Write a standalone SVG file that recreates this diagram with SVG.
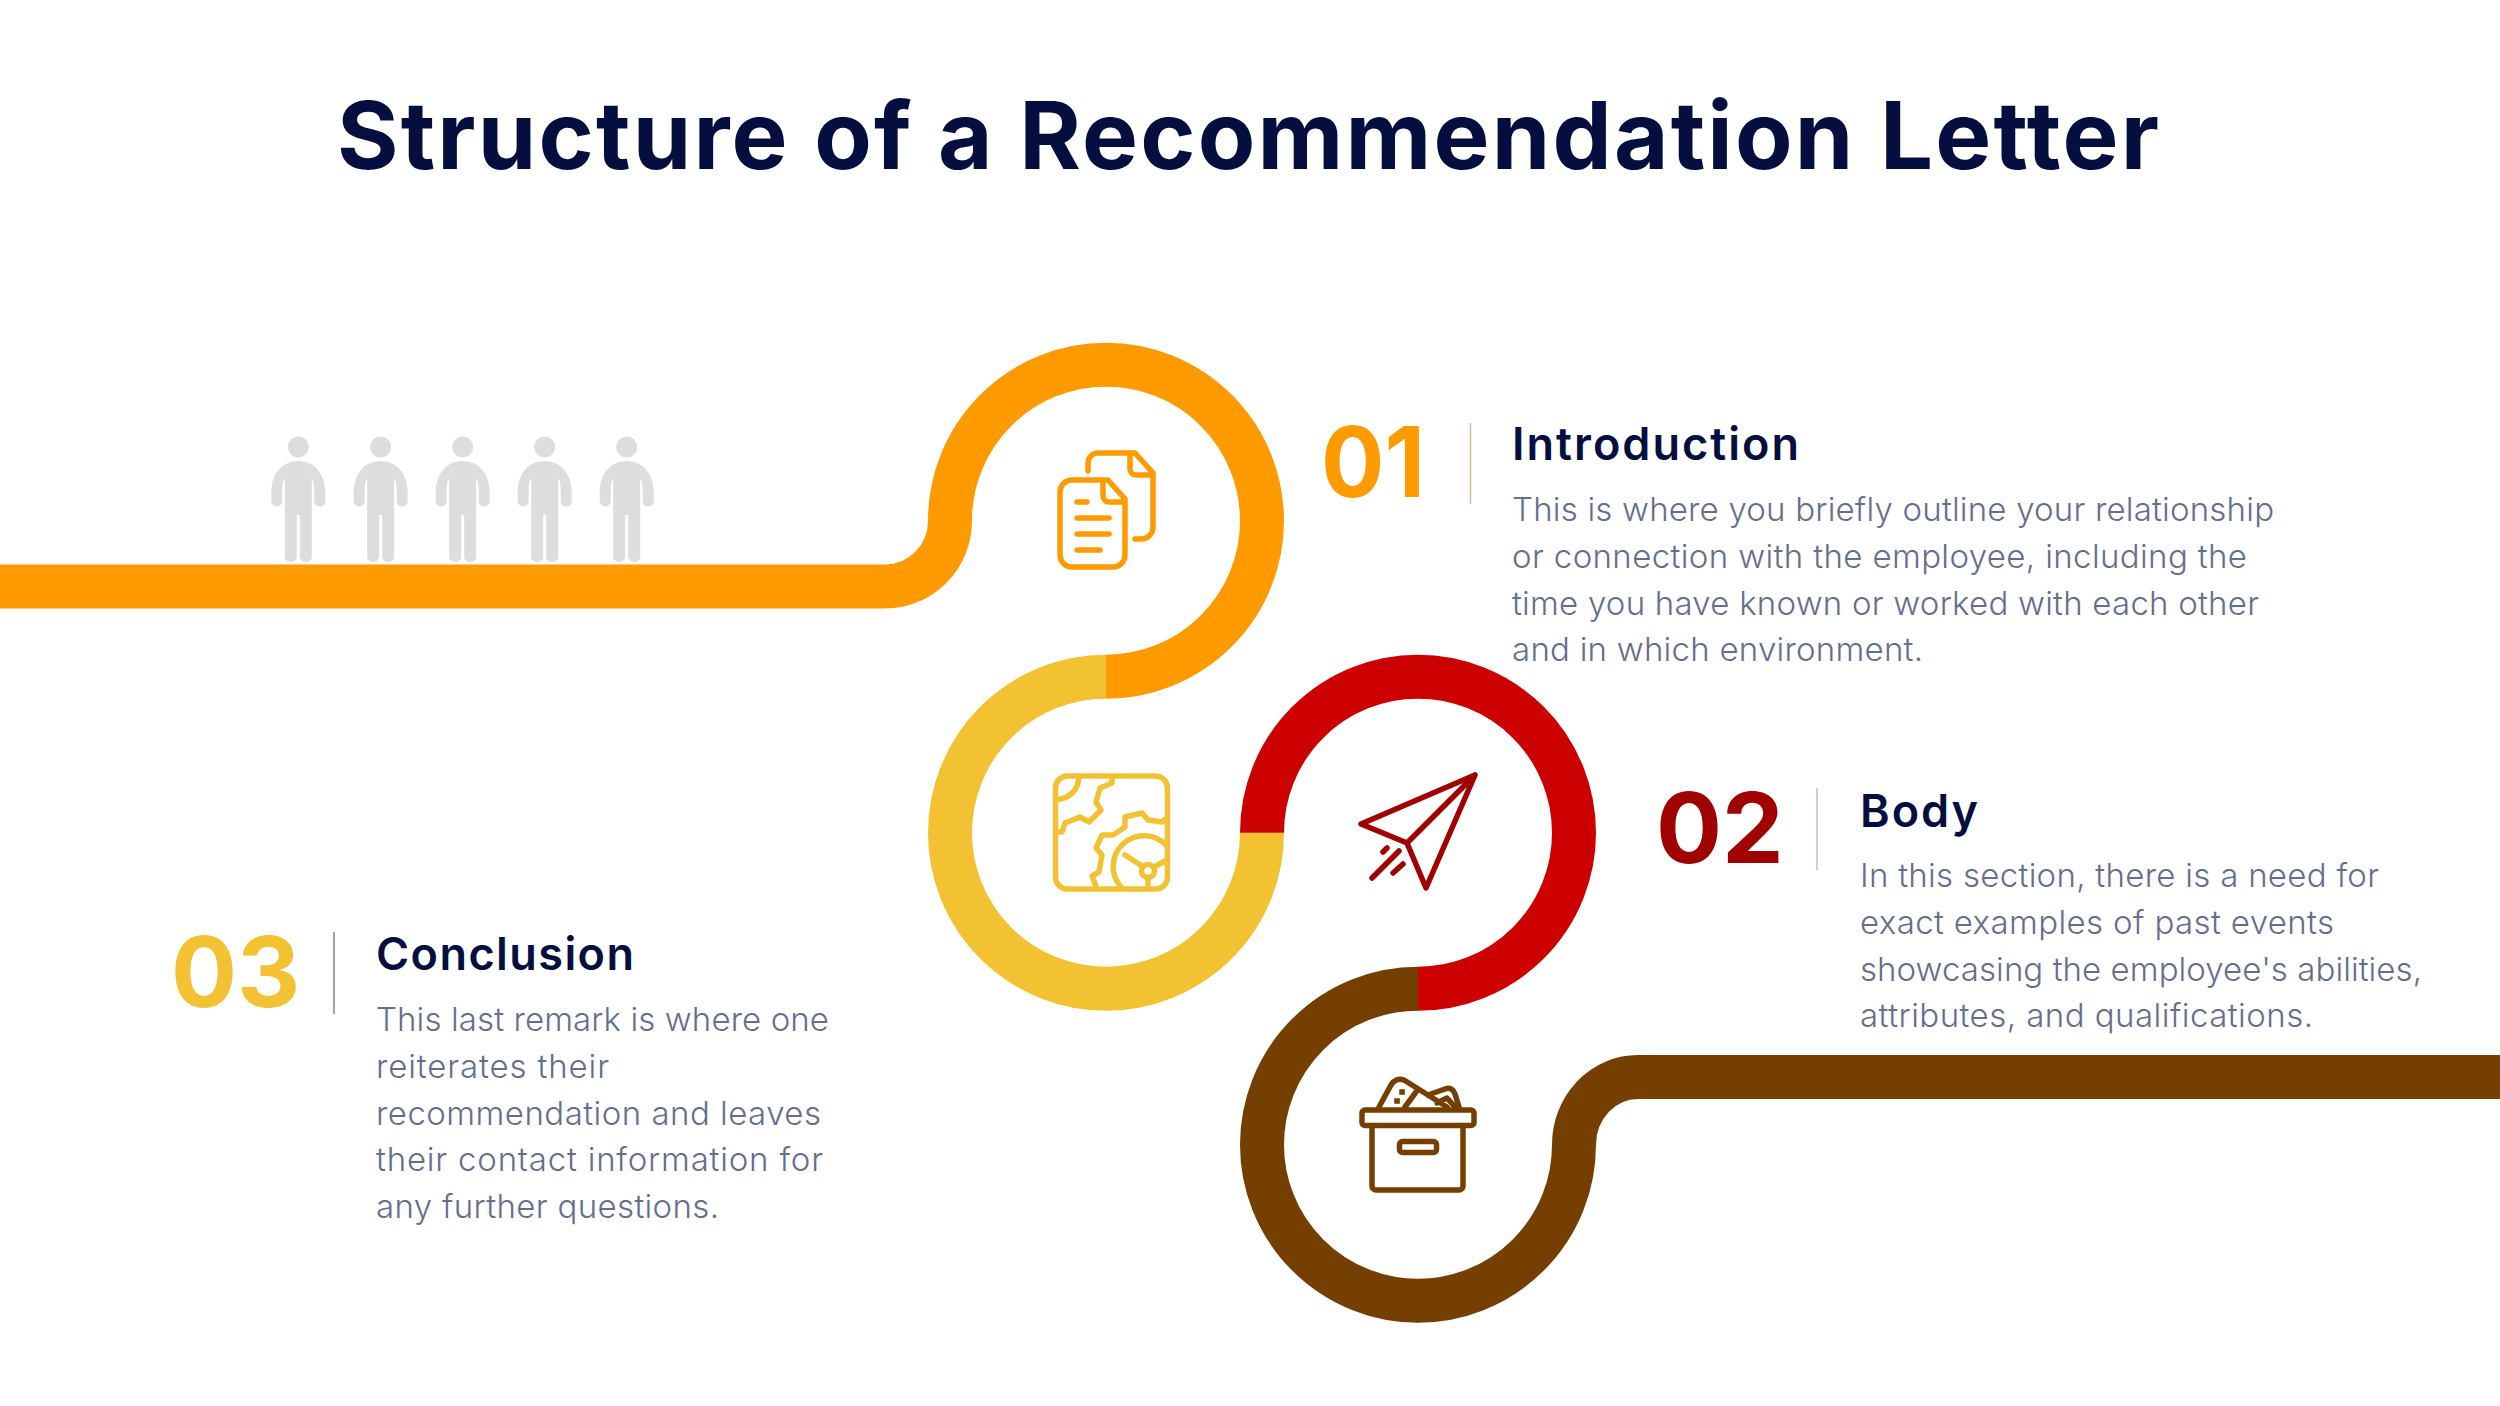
<svg xmlns="http://www.w3.org/2000/svg" width="2500" height="1406" viewBox="0 0 2500 1406">
<style>
.r{fill:none;stroke-width:44}
.i{fill:none;stroke-width:5.5;stroke-linecap:round;stroke-linejoin:round}
.t{font-family:"Inter","Liberation Sans",sans-serif}
.n{font-size:98px;font-weight:700;font-family:"Inter","Liberation Sans",sans-serif}
.h{font-size:45px;font-weight:600;fill:#050f3f;font-family:"Inter","Liberation Sans",sans-serif}
.b{font-size:33px;font-weight:300;fill:#666e8e;font-family:"Inter","Liberation Sans",sans-serif}
</style>
<rect width="2500" height="1406" fill="#fff"/>
<text id="title" class="t" x="1248" y="169" font-size="94" font-weight="700" fill="#050f3f" text-anchor="middle" textLength="1822">Structure of a Recommendation Letter</text>
<defs><g id="p" fill="#dddddd"><circle cx="0" cy="0" r="10.5"/><path d="M0 14C-17 14-27 28-27 45V54A5.5 5.5 0 0 0-16 54V43C-16 38-15 33-13.5 31V111A6.5 6.5 0 0 0-1.5 111V68H1.5V111A6.5 6.5 0 0 0 13.5 111V31C15 33 16 38 16 43V54A5.5 5.5 0 0 0 27 54V45C27 28 17 14 0 14Z"/></g></defs>
<g id="people"><use href="#p" x="298.3" y="447"/><use href="#p" x="380.7" y="447"/><use href="#p" x="462.7" y="447"/><use href="#p" x="544.7" y="447"/><use href="#p" x="626.7" y="447"/></g>
<g id="connectors">
<path class="r" stroke="#ff9b00" d="M0 586.5H885A65 65.8 0 0 0 950 520.7A156 156 0 1 1 1106 676.7"/>
<path class="r" stroke="#f3c233" d="M1106 676.7A156 156 0 1 0 1262 832.7"/>
<path class="r" stroke="#cc0000" d="M1262 832.7A156 156 0 1 1 1418 988.7"/>
<path class="r" stroke="#763f02" d="M1418 988.7A156 156 0 1 0 1574 1144.7A64 67.7 0 0 1 1638 1077H2500"/>
</g>
<g id="node-01">
<g class="i" stroke="#ff9b00"><path d="M1088 471V463A10 10 0 0 1 1098 453H1135L1153 473V527A12 12 0 0 1 1141 539H1135"/><path d="M1130 456V469A6 6 0 0 0 1136 475H1152"/><path d="M1108 480H1072A12 12 0 0 0 1060 492V555A12 12 0 0 0 1072 567H1113A12 12 0 0 0 1125 555V499Z"/><path d="M1103 482V496A6 6 0 0 0 1109 502H1124"/><path d="M1077 502H1087M1077 518H1109M1077 534H1109M1077 550H1100"/></g>
<text class="n" x="1321" y="497" fill="#ff9b00" textLength="104" lengthAdjust="spacingAndGlyphs">01</text>
<line stroke="#d7bb92" stroke-width="1.5" x1="1470.5" y1="423" x2="1470.5" y2="504"/>
<text class="h" x="1512" y="460" textLength="287">Introduction</text>
<text class="b" x="1512" y="521" textLength="762">This is where you briefly outline your relationship</text>
<text class="b" x="1512" y="568" textLength="735">or connection with the employee, including the</text>
<text class="b" x="1512" y="615" textLength="747">time you have known or worked with each other</text>
<text class="b" x="1512" y="661" textLength="411">and in which environment.</text>
</g>
<g id="node-02">
<g class="i" stroke="#f3c233"><rect x="1055.5" y="776" width="112" height="113" rx="12"/><path d="M1079 777C1078 790 1070 798 1056 800M1112 777V783L1100 788L1096 802L1101 810L1089 822L1080 817L1065 823L1062 832H1056M1096 886L1092 876L1099 872L1102 855L1096 848L1102 835H1113L1125 827V817L1142 813L1148 820L1162 822L1167 818M1121 887A30 30 0 0 1 1167 846M1125 855L1142 866M1154 867L1167 860M1148 877V886"/><circle cx="1148" cy="871" r="6.5"/></g>
</g>
<g id="node-03">
<g class="i" stroke="#a00000"><path d="M1475 775L1361 824L1407 843L1426 888ZM1475 775L1407 843M1383 852L1387 848M1399 851L1372 878M1403 864L1393 873"/></g>
<text class="n" x="1656" y="863" fill="#a00000">02</text>
<line stroke="#b9bfd0" stroke-width="1.5" x1="1817" y1="788" x2="1817" y2="870"/>
<text class="h" x="1860" y="827" textLength="118">Body</text>
<text class="b" x="1860" y="887" textLength="519">In this section, there is a need for</text>
<text class="b" x="1860" y="934" textLength="474">exact examples of past events</text>
<text class="b" x="1860" y="981" textLength="562">showcasing the employee's abilities,</text>
<text class="b" x="1860" y="1027" textLength="453">attributes, and qualifications.</text>
</g>
<g id="node-04">
<g class="i" stroke="#763f02"><rect x="1362" y="1110" width="112" height="15.5" rx="3"/><path d="M1372 1126V1186A4 4 0 0 0 1376 1190H1459A4 4 0 0 0 1463 1186V1126"/><rect x="1399.5" y="1141.5" width="37" height="11" rx="3"/><path d="M1379 1107L1391 1085C1394 1080 1399 1078 1404 1080L1447 1107M1405 1107L1416 1092M1428 1095L1445 1089C1450 1087 1454 1090 1455 1094L1459 1107M1437 1103L1447 1098L1455 1107"/><path d="M1402 1092h.1M1397 1101h.1" stroke-linecap="square"/></g>
</g>
<g id="node-05">
<text class="n" x="171" y="1007" fill="#f3c233">03</text>
<line stroke="#80859f" stroke-width="1.5" x1="334" y1="932" x2="334" y2="1014"/>
<text class="h" x="376" y="970" textLength="258">Conclusion</text>
<text class="b" x="376" y="1031" textLength="453">This last remark is where one</text>
<text class="b" x="376" y="1078" textLength="233">reiterates their</text>
<text class="b" x="376" y="1125" textLength="445">recommendation and leaves</text>
<text class="b" x="376" y="1171" textLength="447">their contact information for</text>
<text class="b" x="376" y="1218" textLength="343">any further questions.</text>
</g>
</svg>
